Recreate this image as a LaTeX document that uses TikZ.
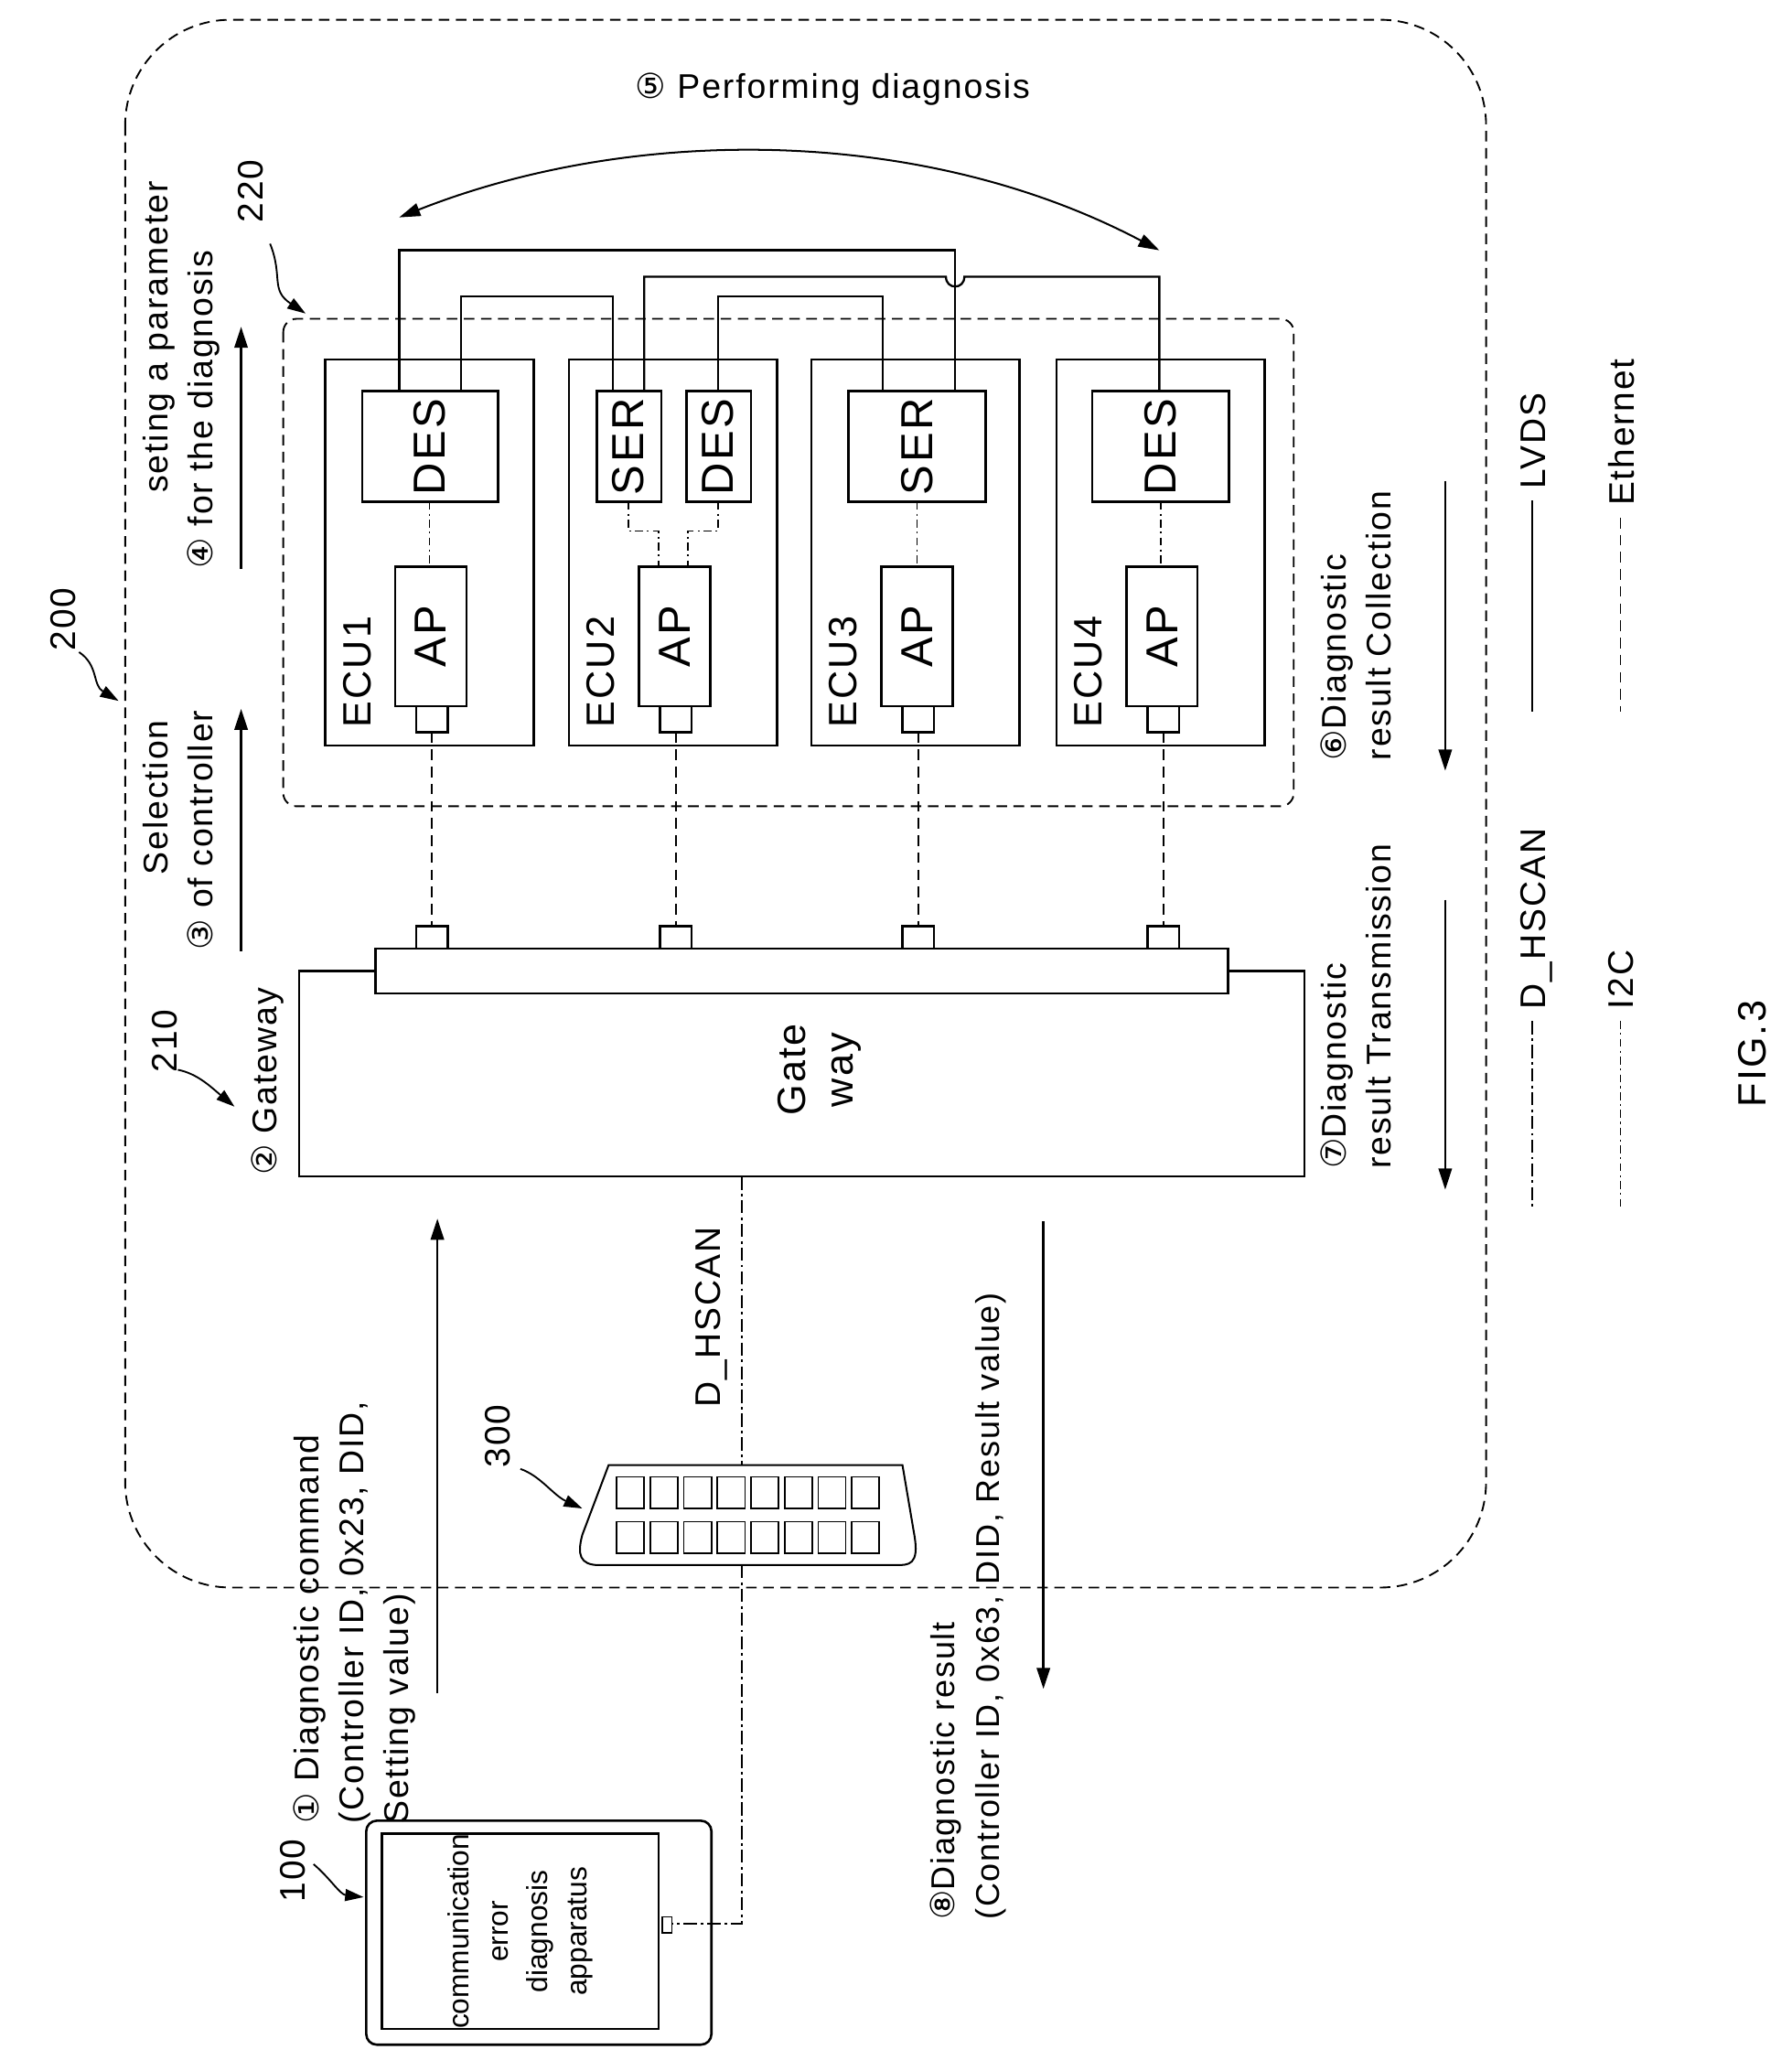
\documentclass[tikz,border=0pt]{standalone}
\usepackage{fontspec}
\setmainfont[LetterSpace=5]{Liberation Sans}
\newfontfamily\symf{DejaVu Sans}
\newfontfamily\devf{Liberation Sans}
\usetikzlibrary{arrows.meta}
\newcommand{\cn}[1]{{\symf #1}}
\begin{document}
\begin{tikzpicture}[x=1pt,y=-1pt,line width=1.6pt,
  box/.style={draw,line width=1.8pt},
  eth/.style={dash pattern=on 8pt off 5pt,line width=1.3pt},
  itc/.style={dash pattern=on 6pt off 3pt on 1.5pt off 3pt,line width=1.1pt},
  hsc/.style={dash pattern=on 10pt off 3pt on 2pt off 3pt,line width=1.5pt},
  lab/.style={rotate=90,anchor=north west,font=\fontsize{26}{34}\selectfont,align=left,inner sep=0pt},
  big/.style={rotate=90,font=\fontsize{34}{40}\selectfont},
  arr/.style={-{Triangle[length=16pt,width=10pt]},line width=1.8pt},
  curv/.style={-{Triangle[length=14pt,width=9pt]},line width=1.3pt}]
\useasboundingbox (0,0) rectangle (1360,1572);
% outer
\draw[eth,rounded corners=80pt] (95,15) rectangle (1128,1205);
\node[big,font=\fontsize{27}{30}\selectfont] (n200) at (48,470) {200};
\draw[curv] (60,495) .. controls (75,505) and (70,520) .. (90,532);
% 220
\draw[eth,rounded corners=10pt] (215,242) rectangle (982,612);
\node[big,font=\fontsize{27}{30}\selectfont] (n220) at (190,145) {220};
\draw[curv] (205,185) .. controls (215,210) and (205,220) .. (232,238);
% ECUs
\foreach \i/\x in {1/247,2/432,3/616,4/802}{
  \draw[box] (\x,273) rectangle ++(158,293);
  \node[big,font=\fontsize{30}{34}\selectfont] (ecu\i) at (\x+24,510) {ECU\i};
  \draw[box] (\x+53,430) rectangle ++(54,106);
  \node[big] (ap\i) at (\x+80,483) {AP};
  \draw[box] (\x+69,536) rectangle ++(24,20);
  \draw[eth] (\x+81,556) -- (\x+81,703);
  \draw[box] (\x+69,703) rectangle ++(24,17);
}
\draw[box] (275,297) rectangle (378,381); \node[big] (des1) at (326,339) {DES};
\draw[box] (453,297) rectangle (502,381); \node[big] (ser2) at (477,339) {SER};
\draw[box] (521,297) rectangle (570,381); \node[big] (des2) at (545,339) {DES};
\draw[box] (644,297) rectangle (748,381); \node[big] (ser3) at (696,339) {SER};
\draw[box] (829,297) rectangle (933,381); \node[big] (des4) at (881,339) {DES};
% I2C
\draw[itc] (326,381) -- (326,430);
\draw[itc] (696,381) -- (696,430);
\draw[itc] (881,381) -- (881,430);
\draw[itc] (477,381) -- (477,403) -- (500,403) -- (500,430);
\draw[itc] (545,381) -- (545,403) -- (522,403) -- (522,430);
% LVDS
\draw (303,297) -- (303,190) -- (725,190) -- (725,297);
\draw (350,297) -- (350,225) -- (465,225) -- (465,297);
\draw (489,297) -- (489,210) -- (718,210) .. controls (718,220) and (732,220) .. (732,210) -- (880,210) -- (880,297);
\draw (545,297) -- (545,225) -- (670,225) -- (670,297);
% perform diag
\node[font=\fontsize{26}{30}\selectfont] (n5) at (632,68) {\cn{⑤} Performing diagnosis};
\draw[{Triangle[length=16pt,width=10pt]}-{Triangle[length=16pt,width=10pt]},line width=1.4pt] (303,165) .. controls (480,95) and (700,95) .. (880,190);
% Gateway
\draw[box] (227,737) rectangle (990,893);
\draw[box,fill=white] (285,720) rectangle (932,754);
\node[rotate=90,font=\fontsize{30}{36}\selectfont,align=center] (gw) at (622,812) {Gate\\way};
\node[lab] (n2) at (190,893) {\cn{②} Gateway};
\node[big,font=\fontsize{27}{30}\selectfont] (n210) at (125,790) {210};
\draw[curv] (135,812) .. controls (150,815) and (160,825) .. (178,840);
% arrows 3 4
\draw[arr] (183,722) -- (183,538);
\draw[arr] (183,432) -- (183,248);
\node[lab] (n3) at (108,722) {\hspace{2.2em}Selection\\\cn{③} of controller};
\node[lab] (n4) at (108,432) {\hspace{2.2em}seting a parameter\\\cn{④} for the diagnosis};
% 6 7
\draw[arr] (1097,365) -- (1097,585);
\draw[arr] (1097,683) -- (1097,903);
\node[lab] (n6) at (1002,578) {\cn{⑥}Diagnostic\\result Collection};
\node[lab] (n7) at (1002,888) {\cn{⑦}Diagnostic\\result Transmission};
% legend
\draw (1163,380) -- (1163,540);
\node[big,font=\fontsize{27}{30}\selectfont,anchor=north west] (lv) at (1150,375) {LVDS};
\draw[eth] (1230,393) -- (1230,540);
\node[big,font=\fontsize{27}{30}\selectfont,anchor=north west] (et) at (1217,388) {Ethernet};
\draw[hsc] (1163,775) -- (1163,918);
\node[big,font=\fontsize{27}{30}\selectfont,anchor=north west] (dh) at (1150,770) {D\_HSCAN};
\draw[itc] (1230,775) -- (1230,918);
\node[big,font=\fontsize{27}{30}\selectfont,anchor=north west] (ic) at (1217,770) {I2C};
\node[big,font=\fontsize{30}{34}\selectfont] (fig) at (1330,800) {FIG.3};
% D_HSCAN lines
\draw[hsc] (563,893) -- (563,1112);
\node[big,font=\fontsize{27}{30}\selectfont] (dhl) at (540,1000) {D\_HSCAN};
\draw[hsc] (563,1188) -- (563,1460) -- (510,1460);
% OBD
\draw[line width=1.4pt] (462,1112) -- (685,1112) -- (694,1165) .. controls (698,1188) and (690,1188) .. (680,1188) -- (455,1188) .. controls (440,1188) and (438,1180) .. (442,1165) -- cycle;
\foreach \k in {0,...,7}{
  \draw[line width=1.2pt] (468+\k*25.5,1121) rectangle ++(21,24);
  \draw[line width=1.2pt] (468+\k*25.5,1155) rectangle ++(21,24);
}
\node[big,font=\fontsize{27}{30}\selectfont] (n300) at (378,1090) {300};
\draw[curv] (395,1115) .. controls (410,1120) and (420,1135) .. (442,1145);
% Device
\draw[box,rounded corners=8pt] (278,1382) rectangle (540,1552);
\draw[box] (290,1392) rectangle (500,1540);
\draw[line width=1.3pt] (503,1455) rectangle (510,1467);
\node[rotate=90,font=\devf\fontsize{22}{30}\selectfont,align=center] (dev) at (395,1466) {communication\\error\\diagnosis\\apparatus};
\node[big,font=\fontsize{27}{30}\selectfont] (n100) at (222,1420) {100};
\draw[curv] (238,1415) .. controls (250,1425) and (258,1438) .. (276,1440);
% 1 8
\draw[arr] (332,1285) -- (332,925);
\draw[arr] (792,927) -- (792,1282);
\node[lab] (n1) at (222,1385) {\cn{①} Diagnostic command\\(Controller ID, 0x23, DID,\\Setting value)};
\node[lab,font=\fontsize{25}{34}\selectfont] (n8) at (705,1458) {\cn{⑧}Diagnostic result\\(Controller ID, 0x63, DID, Result value)};
\end{tikzpicture}
\end{document}
